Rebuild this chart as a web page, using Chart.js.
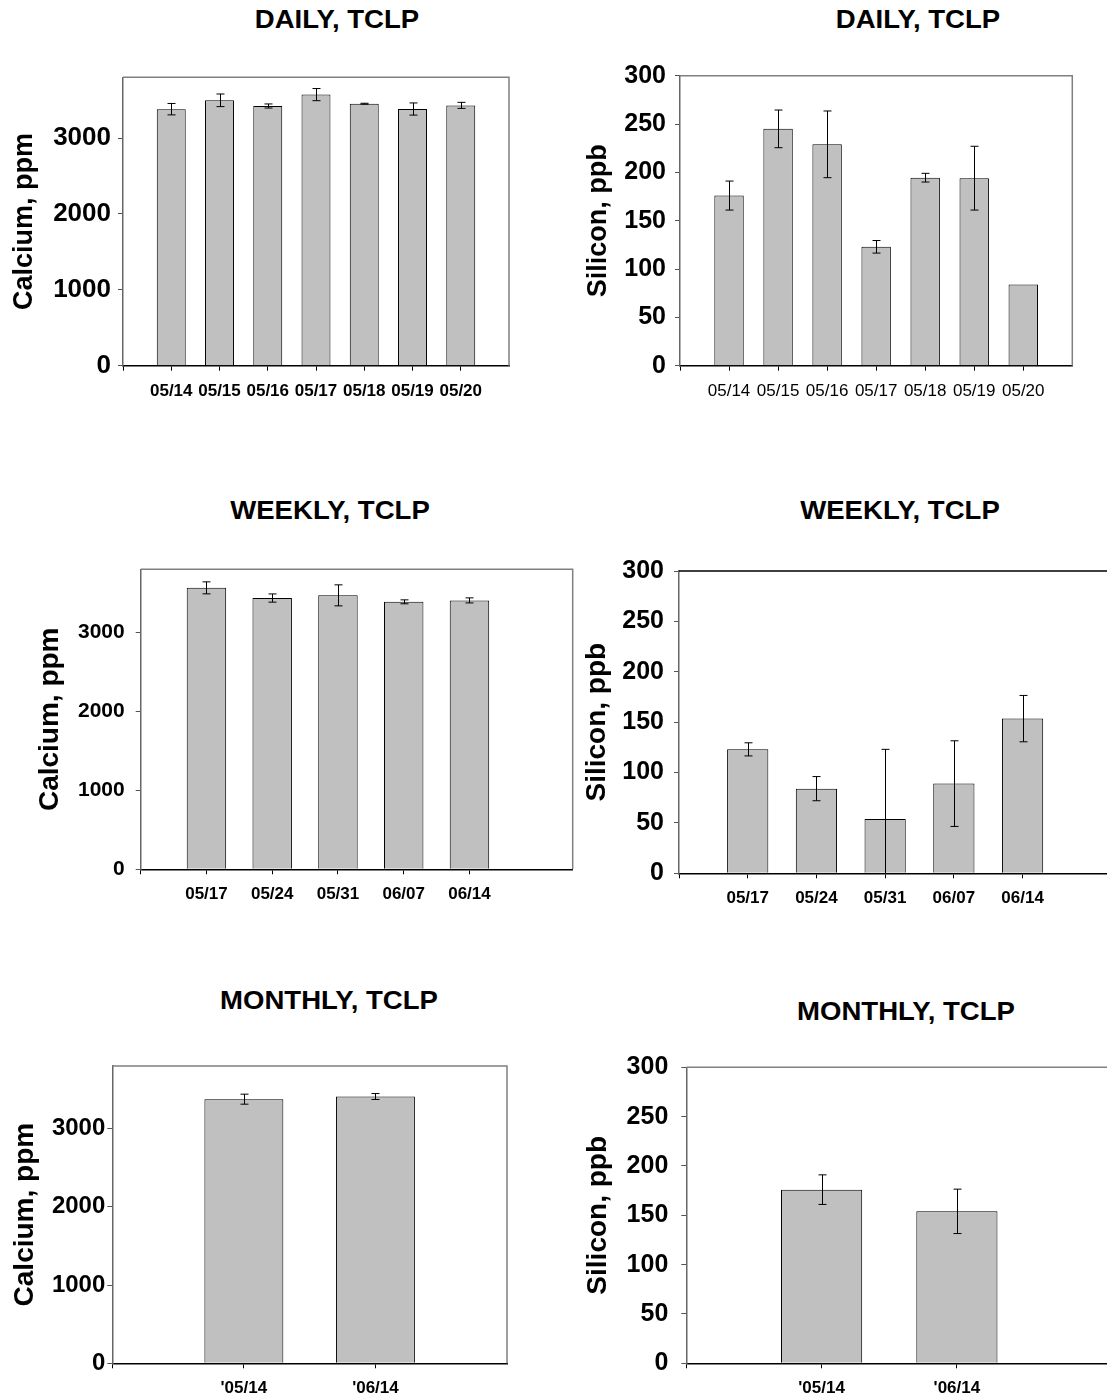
<!DOCTYPE html>
<html>
<head>
<meta charset="utf-8">
<title>TCLP - Calcium and Silicon</title>
<script src="https://cdn.jsdelivr.net/npm/chart.js@4.4.1/dist/chart.umd.min.js"></script>
<style>
  html, body { margin: 0; padding: 0; background: #fff; }
  body { position: relative; width: 1107px; height: 1399px; overflow: hidden; font-family: "Liberation Sans", Arial, sans-serif; }
  canvas { position: absolute; }
  .ttl { position: absolute; transform: translate(-50%, -50%) scaleX(1.06); font-weight: bold; font-size: 26px; line-height: 1; white-space: nowrap; color: #000; }
</style>
</head>
<body>
<div class="ttl" style="left:337px; top:19px">DAILY, TCLP</div>
<div class="ttl" style="left:918px; top:19px">DAILY, TCLP</div>
<div class="ttl" style="left:330px; top:510px">WEEKLY, TCLP</div>
<div class="ttl" style="left:900px; top:510px">WEEKLY, TCLP</div>
<div class="ttl" style="left:329px; top:1000px">MONTHLY, TCLP</div>
<div class="ttl" style="left:906px; top:1011px">MONTHLY, TCLP</div>

<canvas id="dailyCa"></canvas>
<canvas id="dailySi"></canvas>
<canvas id="weeklyCa"></canvas>
<canvas id="weeklySi"></canvas>
<canvas id="monthlyCa"></canvas>
<canvas id="monthlySi"></canvas>

<script>
// Daily samples
const dailyDates = ['05/14', '05/15', '05/16', '05/17', '05/18', '05/19', '05/20'];
const dailyCa = [3380, 3497, 3422, 3572, 3452, 3382, 3430];
const dailyCaErr = [75, 83, 27, 80, 6, 80, 40];
const dailySi = [176, 245, 229, 123, 194.5, 194, 84];
const dailySiErr = [15, 19.5, 34.5, 6.5, 4.5, 33, 0];

// Weekly samples
const weeklyDates = ['05/17', '05/24', '05/31', '06/07', '06/14'];
const weeklyCa = [3565, 3436, 3470, 3388, 3406];
const weeklyCaErr = [76, 52, 133, 25, 32];
const weeklySi = [123, 84, 54, 89, 153.5];
const weeklySiErr = [6.5, 12, 69, 42.5, 23];

// Monthly samples
const monthlyDates = ["'05/14", "'06/14"];
const monthlyCa = [3376, 3410];
const monthlyCaErr = [64, 38];
const monthlySi = [176, 154];
const monthlySiErr = [15, 22.5];

const caTicks = [0, 1000, 2000, 3000];
const siTicks = [0, 50, 100, 150, 200, 250, 300];

Chart.defaults.font.family = '"Liberation Sans", Arial, sans-serif';
Chart.defaults.color = '#000';

// top and right edge of the plot box
const framePlugin = {
    id: 'frame',
    beforeDatasetsDraw(chart, args, opts) {
        const a = chart.chartArea;
        const ctx = chart.ctx;
        ctx.save();
        ctx.strokeStyle = opts.color || '#808080';
        ctx.lineWidth = 1.5;
        ctx.beginPath();
        ctx.moveTo(a.left, a.top);
        ctx.lineTo(a.right, a.top);
        ctx.lineTo(a.right, a.bottom);
        ctx.stroke();
        ctx.restore();
    }
};

// +/- error bars, read from dataset.errors
const errorBarPlugin = {
    id: 'errorBars',
    afterDatasetsDraw(chart) {
        const ctx = chart.ctx;
        const a = chart.chartArea;
        const yScale = chart.scales.y;
        ctx.save();
        ctx.beginPath();
        ctx.rect(a.left, a.top - 1, a.right - a.left, a.bottom - a.top + 1);
        ctx.clip();
        ctx.strokeStyle = '#000';
        ctx.lineWidth = 1;
        chart.data.datasets.forEach((ds, di) => {
            chart.getDatasetMeta(di).data.forEach((bar, i) => {
                const err = ds.errors[i];
                if (!err) return;
                const v = ds.data[i].y;
                const top = yScale.getPixelForValue(v + err);
                const bot = yScale.getPixelForValue(v - err);
                const x = Math.round(bar.x) + 0.5;
                ctx.beginPath();
                ctx.moveTo(x, top); ctx.lineTo(x, bot);
                ctx.moveTo(x - 4, top); ctx.lineTo(x + 4, top);
                ctx.moveTo(x - 4, bot); ctx.lineTo(x + 4, bot);
                ctx.stroke();
            });
        });
        ctx.restore();
    }
};

function makePanel(id, p) {
    const canvas = document.getElementById(id);
    const [x0, y0, w, h] = p.box;
    canvas.width = w;
    canvas.height = h;
    canvas.style.left = x0 + 'px';
    canvas.style.top = y0 + 'px';

    return new Chart(canvas, {
        type: 'bar',
        data: {
            datasets: [{
                data: p.values.map((v, i) => ({ x: i + 1, y: v })),
                errors: p.errors,
                backgroundColor: '#c0c0c0',
                borderColor: '#000',
                borderWidth: 1,
                categoryPercentage: 1,
                barPercentage: 0.6
            }]
        },
        options: {
            responsive: false,
            animation: false,
            devicePixelRatio: 1,
            layout: {
                padding: { left: 0, bottom: 0, top: p.area.top - y0, right: x0 + w - p.area.right }
            },
            plugins: {
                legend: { display: false },
                tooltip: { enabled: false },
                frame: { color: p.frameColor }
            },
            scales: {
                x: {
                    type: 'linear',
                    min: 0,
                    max: p.xMax,
                    offset: false,
                    afterFit: s => { s.height = y0 + h - p.area.bottom; },
                    afterBuildTicks: s => {
                        s.ticks = [0].concat(p.labels.map((_, i) => i + 1)).map(v => ({ value: v }));
                    },
                    ticks: {
                        autoSkip: false,
                        maxRotation: 0,
                        padding: 10,
                        font: { size: 17, weight: p.xBold ? 'bold' : 'normal' },
                        callback: v => (v === 0 ? '' : p.labels[v - 1])
                    },
                    grid: { drawOnChartArea: false, offset: false, tickLength: 5, tickColor: '#000' },
                    border: { color: '#000', width: 1.5 }
                },
                y: {
                    min: 0,
                    max: p.yMax,
                    afterFit: s => { s.width = p.area.left - x0; },
                    afterBuildTicks: s => {
                        s.ticks = p.yTicks.map(v => ({ value: v }));
                    },
                    ticks: {
                        padding: p.yTickPad,
                        font: { size: p.yTickSize, weight: 'bold' },
                        callback: v => String(v)
                    },
                    grid: { drawOnChartArea: false, tickLength: 5, tickColor: '#555' },
                    border: { color: '#666', width: 1.5 },
                    title: {
                        display: true,
                        text: p.yTitle,
                        font: { size: p.yTitleSize, weight: 'bold' },
                        padding: { top: p.yTitlePad, bottom: 0 }
                    }
                }
            }
        },
        plugins: [framePlugin, errorBarPlugin]
    });
}

makePanel('dailyCa', {
    box: [0, 40, 560, 400], area: { left: 123, top: 77.3, right: 509, bottom: 365.7 },
    labels: dailyDates, values: dailyCa, errors: dailyCaErr, xMax: 8, xBold: true,
    yMax: 3800, yTicks: caTicks, yTickSize: 26, yTickPad: 7,
    yTitle: 'Calcium, ppm', yTitleSize: 27, yTitlePad: 8, frameColor: '#808080'
});
makePanel('dailySi', {
    box: [560, 40, 547, 400], area: { left: 680, top: 75.7, right: 1072.3, bottom: 365.7 },
    labels: dailyDates, values: dailySi, errors: dailySiErr, xMax: 8, xBold: false,
    yMax: 300, yTicks: siTicks, yTickSize: 25, yTickPad: 9,
    yTitle: 'Silicon, ppb', yTitleSize: 27, yTitlePad: 22, frameColor: '#808080'
});
makePanel('weeklyCa', {
    box: [0, 530, 600, 410], area: { left: 140.7, top: 569.3, right: 572.7, bottom: 869.3 },
    labels: weeklyDates, values: weeklyCa, errors: weeklyCaErr, xMax: 6.57, xBold: true,
    yMax: 3800, yTicks: caTicks, yTickSize: 21, yTickPad: 11,
    yTitle: 'Calcium, ppm', yTitleSize: 28, yTitlePad: 33, frameColor: '#808080'
});
makePanel('weeklySi', {
    box: [560, 530, 700, 410], area: { left: 679, top: 571, right: 1160, bottom: 873.3 },
    labels: weeklyDates, values: weeklySi, errors: weeklySiErr, xMax: 7, xBold: true,
    yMax: 300, yTicks: siTicks, yTickSize: 25, yTickPad: 10,
    yTitle: 'Silicon, ppb', yTitleSize: 28, yTitlePad: 20, frameColor: '#000'
});
makePanel('monthlyCa', {
    box: [0, 1020, 560, 379], area: { left: 112.3, top: 1066, right: 507, bottom: 1363.3 },
    labels: monthlyDates, values: monthlyCa, errors: monthlyCaErr, xMax: 3, xBold: true,
    yMax: 3800, yTicks: caTicks, yTickSize: 24, yTickPad: 2,
    yTitle: 'Calcium, ppm', yTitleSize: 28, yTitlePad: 8, frameColor: '#808080'
});
makePanel('monthlySi', {
    box: [560, 1020, 700, 379], area: { left: 686.3, top: 1067.3, right: 1227.5, bottom: 1363.3 },
    labels: monthlyDates, values: monthlySi, errors: monthlySiErr, xMax: 4, xBold: true,
    yMax: 300, yTicks: siTicks, yTickSize: 25, yTickPad: 13,
    yTitle: 'Silicon, ppb', yTitleSize: 28, yTitlePad: 21, frameColor: '#808080'
});
</script>
</body>
</html>
